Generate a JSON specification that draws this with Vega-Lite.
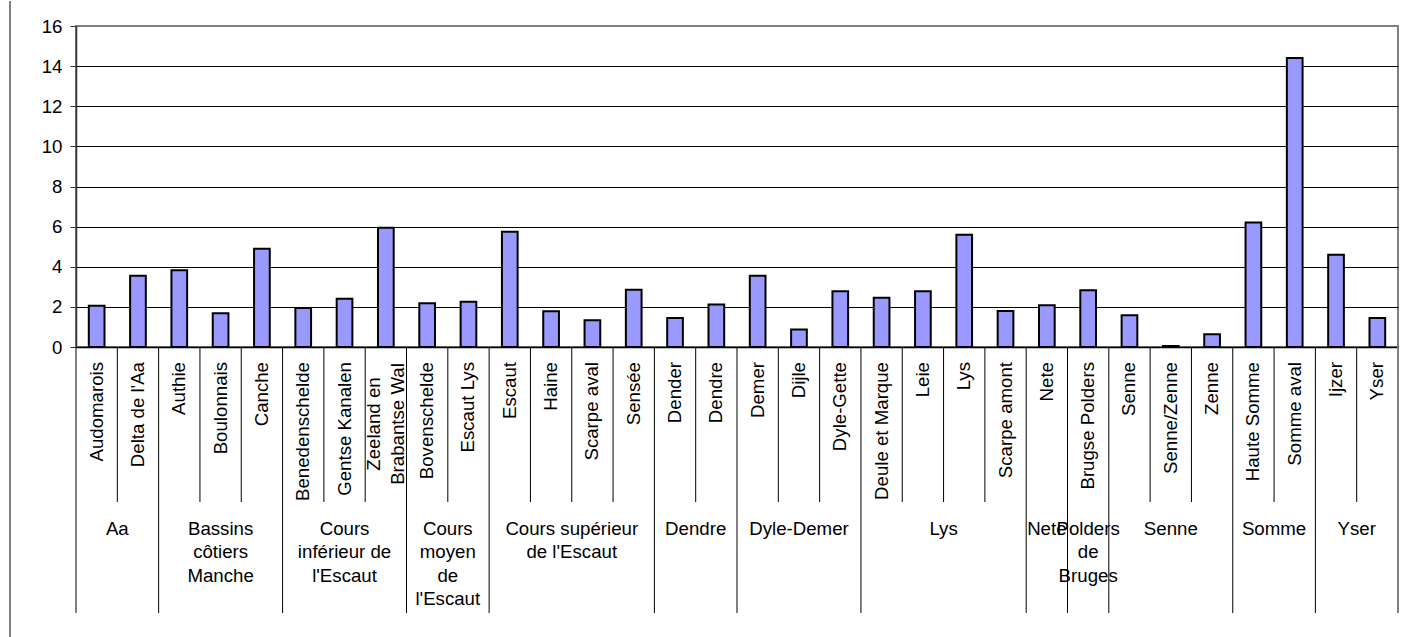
{
  "$schema": "https://vega.github.io/schema/vega-lite/v6.json",
  "background": "white",
  "padding": {"left": 9, "top": 0, "right": 0, "bottom": 0},
  "data": {
    "values": [
      {"basin": "Aa", "river": "Audomarois", "value": 2.05},
      {"basin": "Aa", "river": "Delta de l'Aa", "value": 3.55},
      {"basin": "Bassins\ncôtiers\nManche", "river": "Authie", "value": 3.82},
      {"basin": "Bassins\ncôtiers\nManche", "river": "Boulonnais", "value": 1.68},
      {"basin": "Bassins\ncôtiers\nManche", "river": "Canche", "value": 4.9},
      {"basin": "Cours\ninférieur de\nl'Escaut", "river": "Benedenschelde", "value": 1.95},
      {"basin": "Cours\ninférieur de\nl'Escaut", "river": "Gentse Kanalen", "value": 2.4},
      {"basin": "Cours\ninférieur de\nl'Escaut", "river": "Zeeland en\nBrabantse Wal", "value": 5.95},
      {"basin": "Cours\nmoyen\nde\nl'Escaut", "river": "Bovenschelde", "value": 2.18},
      {"basin": "Cours\nmoyen\nde\nl'Escaut", "river": "Escaut Lys", "value": 2.25},
      {"basin": "Cours supérieur\nde l'Escaut", "river": "Escaut", "value": 5.75},
      {"basin": "Cours supérieur\nde l'Escaut", "river": "Haine", "value": 1.78},
      {"basin": "Cours supérieur\nde l'Escaut", "river": "Scarpe aval", "value": 1.33},
      {"basin": "Cours supérieur\nde l'Escaut", "river": "Sensée", "value": 2.85},
      {"basin": "Dendre", "river": "Dender", "value": 1.45},
      {"basin": "Dendre", "river": "Dendre", "value": 2.12},
      {"basin": "Dyle-Demer", "river": "Demer", "value": 3.55},
      {"basin": "Dyle-Demer", "river": "Dijle", "value": 0.87},
      {"basin": "Dyle-Demer", "river": "Dyle-Gette", "value": 2.78},
      {"basin": "Lys", "river": "Deule et Marque", "value": 2.45},
      {"basin": "Lys", "river": "Leie", "value": 2.78},
      {"basin": "Lys", "river": "Lys", "value": 5.6},
      {"basin": "Lys", "river": "Scarpe amont", "value": 1.8},
      {"basin": "Nete", "river": "Nete", "value": 2.08},
      {"basin": "Polders\nde\nBruges", "river": "Brugse Polders", "value": 2.83},
      {"basin": "Senne", "river": "Senne", "value": 1.58},
      {"basin": "Senne", "river": "Senne/Zenne", "value": 0.05},
      {"basin": "Senne", "river": "Zenne", "value": 0.63},
      {"basin": "Somme", "river": "Haute Somme", "value": 6.2},
      {"basin": "Somme", "river": "Somme aval", "value": 14.4},
      {"basin": "Yser", "river": "Ijzer", "value": 4.6},
      {"basin": "Yser", "river": "Yser", "value": 1.45}
    ]
  },
  "spacing": 29,
  "hconcat": [
    {
      "width": 1,
      "height": 637,
      "data": {"values": [{}]},
      "mark": {"type": "rule", "color": "#000000", "strokeWidth": 1},
      "encoding": {
        "x": {"datum": 0, "type": "quantitative", "scale": {"domain": [0, 1]}, "axis": null}
      }
    },
    {
      "spacing": 0,
      "bounds": "flush",
      "resolve": {"scale": {"x": "independent", "y": "independent"}},
      "vconcat": [
        {
          "width": 1322,
          "height": 25,
          "data": {"values": [{}]},
          "mark": {"type": "rule", "opacity": 0},
          "encoding": {
            "x": {"datum": 0, "type": "quantitative", "scale": {"domain": [0, 1]}, "axis": null}
          }
        },
        {
          "width": 1322,
          "height": 321,
          "view": {"stroke": "#808080", "strokeWidth": 2},
          "mark": {"type": "bar", "fill": "#9999ff", "stroke": "#000000", "strokeWidth": 2},
          "encoding": {
            "x": {
              "field": "river",
              "type": "nominal",
              "sort": null,
              "scale": {"type": "band", "paddingInner": 0.62, "paddingOuter": 0.31},
              "axis": {"labels": false, "ticks": false, "title": null, "grid": false, "domainColor": "#000000", "domainWidth": 1.5}
            },
            "y": {
              "field": "value",
              "type": "quantitative",
              "scale": {"domain": [0, 16], "nice": false},
              "axis": {
                "values": [0, 2, 4, 6, 8, 10, 12, 14, 16],
                "title": null,
                "grid": true,
                "gridColor": {"condition": {"test": "datum.value >= 16", "value": "#808080"}, "value": "#000000"},
                "gridWidth": 1,
                "tickSize": 6,
                "tickColor": "#333333",
                "domainColor": "#333333",
                "domainWidth": 1.5,
                "labelPadding": 8,
                "labelFont": "Liberation Sans",
                "labelFontSize": 18.67,
                "labelColor": "#000000"
              }
            }
          }
        },
        {
          "width": 1322,
          "height": 155,
          "layer": [
            {
              "mark": {"type": "rule", "color": "#000000", "strokeWidth": 1},
              "encoding": {
                "x": {"field": "river", "type": "nominal", "sort": null, "bandPosition": 0, "scale": {"type": "band", "paddingInner": 0, "paddingOuter": 0}, "axis": null},
                "y": {"datum": 0, "type": "quantitative", "scale": {"domain": [0, 1], "nice": false}, "axis": null},
                "y2": {"datum": 1}
              }
            },
            {
              "transform": [{"filter": "datum.river == 'Yser'"}],
              "mark": {"type": "rule", "color": "#808080", "strokeWidth": 2},
              "encoding": {
                "x": {"field": "river", "type": "nominal", "sort": null, "bandPosition": 1, "axis": null},
                "y": {"datum": 0, "type": "quantitative", "axis": null},
                "y2": {"datum": 1}
              }
            },
            {
              "transform": [{"filter": "indexof(datum.river, '\\n') < 0"}],
              "mark": {"type": "text", "angle": 270, "align": "right", "baseline": "middle", "dx": -15, "font": "Liberation Sans", "fontSize": 18.67, "color": "#000000"},
              "encoding": {
                "x": {"field": "river", "type": "nominal", "sort": null, "axis": null},
                "y": {"datum": 1, "type": "quantitative", "axis": null},
                "text": {"field": "river"}
              }
            },
            {
              "transform": [{"filter": "indexof(datum.river, '\\n') >= 0"}],
              "mark": {"type": "text", "angle": 270, "align": "center", "baseline": "middle", "dx": -77, "dy": -12, "font": "Liberation Sans", "fontSize": 18.67, "lineHeight": 24, "lineBreak": "\n", "color": "#000000"},
              "encoding": {
                "x": {"field": "river", "type": "nominal", "sort": null, "axis": null},
                "y": {"datum": 1, "type": "quantitative", "axis": null},
                "text": {"field": "river"}
              }
            }
          ]
        },
        {
          "width": 1322,
          "height": 111,
          "resolve": {"scale": {"x": "independent"}},
          "layer": [
            {
              "transform": [{"window": [{"op": "row_number", "as": "rank"}], "groupby": ["basin"]}],
              "layer": [
                {
                  "mark": {"type": "rule", "color": "#000000", "strokeWidth": 1},
                  "encoding": {
                    "x": {"field": "river", "type": "nominal", "sort": null, "bandPosition": 0, "scale": {"type": "band", "paddingInner": 0, "paddingOuter": 0}, "axis": null},
                    "y": {"datum": 0, "type": "quantitative", "scale": {"domain": [0, 1], "nice": false}, "axis": null},
                    "y2": {"datum": 1},
                    "strokeOpacity": {"condition": {"test": "datum.rank == 1", "value": 1}, "value": 0}
                  }
                },
                {
                  "transform": [{"filter": "datum.river == 'Yser'"}],
                  "mark": {"type": "rule", "color": "#808080", "strokeWidth": 2},
                  "encoding": {
                    "x": {"field": "river", "type": "nominal", "sort": null, "bandPosition": 1, "axis": null},
                    "y": {"datum": 0, "type": "quantitative", "axis": null},
                    "y2": {"datum": 1}
                  }
                }
              ]
            },
            {
              "transform": [{"window": [{"op": "row_number", "as": "idx"}]}],
              "mark": {"type": "text", "align": "center", "baseline": "top", "dy": 18, "font": "Liberation Sans", "fontSize": 18.67, "lineHeight": 23.3, "lineBreak": "\n", "color": "#000000"},
              "encoding": {
                "x": {"aggregate": "mean", "field": "idx", "type": "quantitative", "scale": {"domain": [0.5, 32.5], "nice": false, "zero": false}, "axis": null},
                "y": {"datum": 1, "type": "quantitative", "axis": null},
                "text": {"field": "basin"}
              }
            }
          ]
        }
      ]
    }
  ],
  "config": {
    "font": "Liberation Sans",
    "view": {"stroke": null}
  }
}
